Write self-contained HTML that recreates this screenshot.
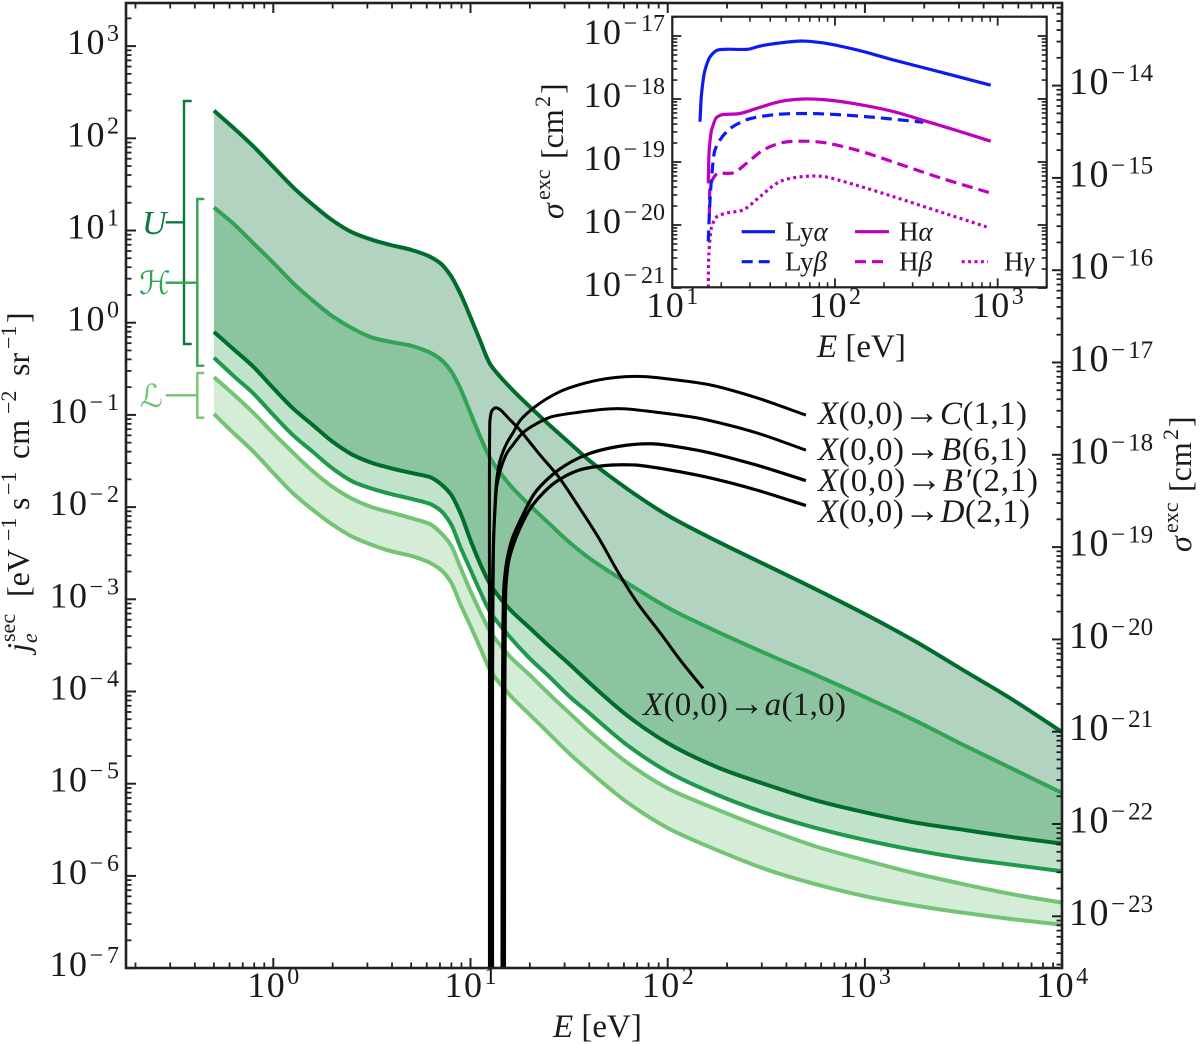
<!DOCTYPE html>
<html lang="en">
<head>
<meta charset="utf-8">
<title>Secondary electron spectrum and excitation cross sections</title>
<style>
html,body{margin:0;padding:0;background:#fff;width:1200px;height:1045px;overflow:hidden}
svg{display:block}
text{font-family:"Liberation Serif","DejaVu Serif",serif;fill:#1a1a1a}
.i{font-style:italic}
</style>
</head>
<body>
<svg id="chart" xmlns="http://www.w3.org/2000/svg" width="1200" height="1045" viewBox="0 0 1200 1045">
  <defs>
    <clipPath id="main-clip"><rect x="126" y="3" width="936" height="965"/></clipPath>
    <clipPath id="inset-clip"><rect x="672.3" y="16.7" width="374.4" height="270.6"/></clipPath>
  </defs>
  <g id="main-fills" clip-path="url(#main-clip)"></g>
  <g id="main-lines" clip-path="url(#main-clip)"></g>
  <g id="cross-lines" clip-path="url(#main-clip)"></g>
  <g id="main-ticks"></g>
  <rect x="126" y="3" width="936" height="965" fill="none" stroke="#222" stroke-width="2.6"/>

  <g fill="none" stroke-width="2.4">
    <path stroke="#0b7a3b" d="M191.7 101H184V344H191.7M165.7 222.3H184"/>
    <path stroke="#31a354" d="M204.3 199H197.3V365.7H204.3M165.7 282.7H197.3"/>
    <path stroke="#74c476" d="M204.3 373H197.3V417.7H204.3M165.7 395.3H197.3"/>
  </g>
  <text class="i" x="142" y="234" font-size="34" style="fill:#0b7a3b">U</text>
  <text x="139" y="294" font-size="32" style="fill:#31a354;font-family:'DejaVu Serif','DejaVu Sans',serif;font-style:italic">ℋ</text>
  <text x="140" y="407" font-size="32" style="fill:#74c476;font-family:'DejaVu Serif','DejaVu Sans',serif;font-style:italic">ℒ</text>

  <text x="818" y="424" font-size="33" textLength="209"><tspan class="i">X</tspan>(0,0)<tspan font-size="36">→</tspan><tspan class="i">C</tspan>(1,1)</text>
  <text x="818" y="460" font-size="33" textLength="209"><tspan class="i">X</tspan>(0,0)<tspan font-size="36">→</tspan><tspan class="i">B</tspan>(6,1)</text>
  <text x="818" y="491" font-size="33" textLength="220"><tspan class="i">X</tspan>(0,0)<tspan font-size="36">→</tspan><tspan class="i">B′</tspan>(2,1)</text>
  <text x="818" y="522" font-size="33" textLength="212"><tspan class="i">X</tspan>(0,0)<tspan font-size="36">→</tspan><tspan class="i">D</tspan>(2,1)</text>
  <text x="643" y="715" font-size="33" textLength="203"><tspan class="i">X</tspan>(0,0)<tspan font-size="36">→</tspan><tspan class="i">a</tspan>(1,0)</text>

  <text x="553" y="1037" font-size="33"><tspan class="i">E</tspan> [eV]</text>

  <g transform="translate(29 652) rotate(-90)" font-size="32">
    <text class="i" x="0" y="0">j</text>
    <text class="i" x="9" y="8" font-size="22">e</text>
    <text x="10" y="-14" font-size="22">sec</text>
    <text x="55" y="0">[eV</text>
    <text x="111" y="-13" font-size="22">−1</text>
    <text x="142" y="0">s</text>
    <text x="157" y="-13" font-size="22">−1</text>
    <text x="193" y="0">cm</text>
    <text x="238" y="-13" font-size="22">−2</text>
    <text x="276" y="0">sr</text>
    <text x="303" y="-13" font-size="22">−1</text>
    <text x="329" y="0">]</text>
  </g>

  <g transform="translate(1191 552) rotate(-90)" font-size="32">
    <text class="i" x="0" y="0">σ</text>
    <text x="19" y="-13" font-size="22">exc</text>
    <text x="60" y="0">[cm</text>
    <text x="112" y="-13" font-size="22">2</text>
    <text x="125" y="0">]</text>
  </g>

  <rect x="672.3" y="16.7" width="374.4" height="270.6" fill="#fff"/>
  <g id="inset-lines" clip-path="url(#inset-clip)"></g>
  <g id="inset-ticks"></g>
  <rect x="672.3" y="16.7" width="374.4" height="270.6" fill="none" stroke="#222" stroke-width="2.2"/>

  <text x="817" y="357" font-size="33"><tspan class="i">E</tspan> [eV]</text>
  <g transform="translate(563 219) rotate(-90)" font-size="32">
    <text class="i" x="0" y="0">σ</text>
    <text x="19" y="-13" font-size="22">exc</text>
    <text x="60" y="0">[cm</text>
    <text x="112" y="-13" font-size="22">2</text>
    <text x="125" y="0">]</text>
  </g>

  <g font-size="27">
    <line x1="741.7" y1="231.7" x2="775" y2="231.7" stroke="#0c1cf0" stroke-width="3.2"/>
    <text x="785" y="240.7">Ly<tspan class="i">α</tspan></text>
    <line x1="855" y1="231.7" x2="889" y2="231.7" stroke="#bf00bf" stroke-width="3.2"/>
    <text x="899" y="240.7">H<tspan class="i">α</tspan></text>
    <line x1="741.7" y1="261.7" x2="775" y2="261.7" stroke="#0c1cf0" stroke-width="3.2" stroke-dasharray="11 6"/>
    <text x="785" y="270.7">Ly<tspan class="i">β</tspan></text>
    <line x1="855" y1="261.7" x2="889" y2="261.7" stroke="#bf00bf" stroke-width="3.2" stroke-dasharray="11 6"/>
    <text x="899" y="270.7">H<tspan class="i">β</tspan></text>
    <line x1="961.7" y1="261.7" x2="988" y2="261.7" stroke="#bf00bf" stroke-width="3.2" stroke-dasharray="3 3.4"/>
    <text x="1004" y="270.7">H<tspan class="i">γ</tspan></text>
  </g>
</svg>
<script>
// All values are log10 of the physical quantity (E in eV, flux j, cross section sigma in cm^2).
const fluxLogE = [-0.301,-0.2,-0.1,0,0.1,0.2,0.3,0.4,0.5,0.6,0.7,0.8,0.85,0.9,0.95,1,1.05,1.1,1.2,1.3,1.4,1.5,1.6,1.8,2,2.25,2.5,2.75,3,3.25,3.5,3.75,4];
const uUpperLogJ = [2.30,2.11,1.91,1.69,1.47,1.28,1.11,0.98,0.90,0.84,0.79,0.71,0.64,0.51,0.31,0.06,-0.20,-0.45,-0.70,-0.91,-1.11,-1.30,-1.49,-1.81,-2.09,-2.37,-2.63,-2.89,-3.16,-3.45,-3.77,-4.09,-4.44];
const hUpperLogJ = [1.25,1.07,0.86,0.65,0.43,0.24,0.07,-0.06,-0.16,-0.21,-0.25,-0.33,-0.40,-0.52,-0.72,-0.98,-1.24,-1.47,-1.76,-1.98,-2.18,-2.38,-2.55,-2.83,-3.09,-3.35,-3.59,-3.82,-4.06,-4.31,-4.58,-4.84,-5.10];
const uLowerLogJ = [-0.10,-0.29,-0.48,-0.71,-0.93,-1.11,-1.29,-1.43,-1.52,-1.58,-1.63,-1.68,-1.75,-1.86,-2.07,-2.36,-2.62,-2.84,-3.11,-3.31,-3.51,-3.70,-3.90,-4.27,-4.56,-4.82,-5.01,-5.18,-5.31,-5.42,-5.50,-5.58,-5.65];
const hLowerLogJ = [-0.38,-0.58,-0.77,-1.00,-1.22,-1.40,-1.58,-1.72,-1.80,-1.86,-1.91,-1.97,-2.04,-2.18,-2.44,-2.68,-2.92,-3.14,-3.41,-3.64,-3.84,-4.05,-4.23,-4.59,-4.87,-5.12,-5.32,-5.48,-5.61,-5.72,-5.81,-5.88,-5.95];
const lUpperLogJ = [-0.59,-0.78,-0.98,-1.20,-1.41,-1.61,-1.78,-1.91,-2.00,-2.06,-2.12,-2.19,-2.28,-2.41,-2.66,-2.91,-3.14,-3.35,-3.62,-3.82,-4.03,-4.23,-4.43,-4.78,-5.05,-5.28,-5.49,-5.68,-5.83,-5.97,-6.09,-6.20,-6.29];
const lLowerLogJ = [-0.99,-1.20,-1.40,-1.63,-1.85,-2.03,-2.19,-2.32,-2.41,-2.48,-2.53,-2.61,-2.68,-2.81,-3.06,-3.29,-3.53,-3.77,-4.04,-4.25,-4.46,-4.67,-4.86,-5.21,-5.48,-5.72,-5.93,-6.09,-6.22,-6.32,-6.40,-6.47,-6.53];

const aLogE = [1.096,1.096,1.096,1.097,1.099,1.109,1.129,1.150,1.200,1.246,1.352,1.447,1.545,1.647,1.748,1.848,1.966,2.062,2.179];
const aLogSigma = [-24,-20,-18.2,-17.78,-17.62,-17.52,-17.49,-17.51,-17.62,-17.72,-18.00,-18.24,-18.55,-18.89,-19.27,-19.61,-19.94,-20.22,-20.53];
const cLogE = [1.112,1.112,1.114,1.119,1.134,1.150,1.185,1.216,1.251,1.327,1.449,1.647,1.850,2.047,2.209,2.448,2.701];
const cLogSigma = [-24,-20.66,-19.57,-18.81,-18.25,-18.06,-17.87,-17.76,-17.63,-17.48,-17.32,-17.19,-17.15,-17.19,-17.24,-17.38,-17.57];
const bLogE = [1.107,1.108,1.110,1.119,1.134,1.155,1.185,1.216,1.266,1.337,1.408,1.545,1.748,1.948,2.149,2.448,2.701];
const bLogSigma = [-24,-20.66,-19.57,-18.81,-18.33,-18.14,-17.98,-17.89,-17.76,-17.66,-17.59,-17.54,-17.50,-17.54,-17.60,-17.76,-17.95];
const bPrimeLogE = [1.160,1.161,1.165,1.170,1.185,1.210,1.266,1.327,1.449,1.586,1.748,1.910,2.149,2.448,2.701];
const bPrimeLogSigma = [-24,-21.20,-19.79,-19.41,-19.14,-18.92,-18.65,-18.41,-18.16,-18.00,-17.91,-17.88,-17.95,-18.11,-18.28];
const dLogE = [1.172,1.173,1.176,1.180,1.195,1.223,1.307,1.429,1.545,1.667,1.829,2.149,2.448,2.701];
const dLogSigma = [-24,-21.20,-19.79,-19.41,-19.14,-18.94,-18.57,-18.30,-18.17,-18.12,-18.11,-18.22,-18.38,-18.55];

const lyAlphaLogE = [1.170,1.180,1.201,1.232,1.273,1.334,1.467,1.539,1.662,1.805,1.928,2.133,2.359,2.645,2.957];
const lyAlphaLogSigma = [-18.36,-17.91,-17.54,-17.33,-17.23,-17.21,-17.21,-17.16,-17.11,-17.08,-17.11,-17.22,-17.38,-17.57,-17.78];
const hAlphaLogE = [1.221,1.227,1.242,1.273,1.303,1.416,1.518,1.662,1.805,1.928,2.133,2.359,2.543,2.748,2.957];
const hAlphaLogSigma = [-19.34,-18.81,-18.49,-18.29,-18.25,-18.23,-18.15,-18.04,-18.00,-18.01,-18.08,-18.20,-18.34,-18.50,-18.67];
const lyBetaLogE = [1.221,1.232,1.242,1.262,1.293,1.355,1.457,1.621,1.826,2.031,2.236,2.543];
const lyBetaLogSigma = [-20.26,-19.60,-19.23,-18.81,-18.65,-18.47,-18.33,-18.25,-18.23,-18.25,-18.29,-18.37];
const hBetaLogE = [1.227,1.236,1.273,1.375,1.457,1.559,1.682,1.805,1.928,2.133,2.359,2.645,2.953];
const hBetaLogSigma = [-19.87,-19.34,-19.19,-19.17,-19.02,-18.81,-18.69,-18.67,-18.69,-18.81,-19.00,-19.25,-19.49];
const hGammaLogE = [1.221,1.225,1.242,1.273,1.334,1.436,1.539,1.662,1.805,1.928,2.133,2.359,2.645,2.932];
const hGammaLogSigma = [-20.99,-20.45,-20.03,-19.87,-19.81,-19.76,-19.55,-19.31,-19.23,-19.23,-19.37,-19.55,-19.79,-20.03];

const mainXTickExps = [0,1,2,3,4];
const mainYTickExps = [-7,-6,-5,-4,-3,-2,-1,0,1,2,3];
const rightYTickExps = [-23,-22,-21,-20,-19,-18,-17,-16,-15,-14];
const insetXTickExps = [1,2,3];
const insetYTickExps = [-21,-20,-19,-18,-17];
const minorMultipliers = [2,3,4,5,6,7,8,9];

// Axis functions
function xMain(logE){ return 273.3 + 197.2 * logE; }
function yMain(logJ){ return 322.7 - 92.2 * logJ; }
function ySigma(logS){ return 916.3 - 92.3 * (logS + 23); }
function xInset(logE){ return 672.3 + 162.7 * (logE - 1); }
function yInset(logS){ return 36 - 63 * (logS + 17); }

const NS = 'http://www.w3.org/2000/svg';
function make(tag, parent, attrs){
  const el = document.createElementNS(NS, tag);
  for (const k in attrs) el.setAttribute(k, attrs[k]);
  parent.appendChild(el);
  return el;
}
function tangentAt(p, i){
  const a = p[Math.max(i-1,0)], b = p[i], c = p[Math.min(i+1,p.length-1)];
  const l1 = Math.hypot(b[0]-a[0], b[1]-a[1]);
  const l2 = Math.hypot(c[0]-b[0], c[1]-b[1]);
  let tx, ty;
  if (l1 === 0){ tx = (c[0]-b[0])/l2; ty = (c[1]-b[1])/l2; }
  else if (l2 === 0){ tx = (b[0]-a[0])/l1; ty = (b[1]-a[1])/l1; }
  else {
    tx = ((b[0]-a[0])/l1*l2 + (c[0]-b[0])/l2*l1)/(l1+l2);
    ty = ((b[1]-a[1])/l1*l2 + (c[1]-b[1])/l2*l1)/(l1+l2);
  }
  const n = Math.hypot(tx,ty) || 1;
  return [tx/n, ty/n];
}
function segLen(p, i){
  if (i < 0 || i >= p.length - 1) return Infinity;
  return Math.hypot(p[i+1][0]-p[i][0], p[i+1][1]-p[i][1]);
}
function smoothSegments(p){
  let d = '';
  for (let i = 0; i < p.length - 1; i++){
    const p1 = p[i], p2 = p[i+1];
    const len = segLen(p, i);
    const h1 = Math.min(len, segLen(p, i-1)) / 3;
    const h2 = Math.min(len, segLen(p, i+1)) / 3;
    const t1 = tangentAt(p, i), t2 = tangentAt(p, i+1);
    d += 'C' + (p1[0]+t1[0]*h1).toFixed(2) + ' ' + (p1[1]+t1[1]*h1).toFixed(2) + ' ' +
         (p2[0]-t2[0]*h2).toFixed(2) + ' ' + (p2[1]-t2[1]*h2).toFixed(2) + ' ' +
         p2[0].toFixed(2) + ' ' + p2[1].toFixed(2);
  }
  return d;
}
function linePath(p){ return 'M' + p[0][0].toFixed(2) + ' ' + p[0][1].toFixed(2) + smoothSegments(p); }
function bandPath(a, b){
  const r = b.slice().reverse();
  return linePath(a) + 'L' + r[0][0].toFixed(2) + ' ' + r[0][1].toFixed(2) + smoothSegments(r) + 'Z';
}
function zipPoints(xs, ys, fx, fy){ return xs.map(function(v,i){ return [fx(v), fy(ys[i])]; }); }
function fluxPoints(ys){ return zipPoints(fluxLogE, ys, xMain, yMain); }

const fillsG = document.getElementById('main-fills');
const linesG = document.getElementById('main-lines');
const crossG = document.getElementById('cross-lines');
const mainTicksG = document.getElementById('main-ticks');
const insetLinesG = document.getElementById('inset-lines');
const insetTicksG = document.getElementById('inset-ticks');

let el;
el = make('path', fillsG, {d: bandPath(fluxPoints(uUpperLogJ), fluxPoints(uLowerLogJ)), fill: '#006d2c', 'fill-opacity': 0.3});


el = make('path', fillsG, {d: bandPath(fluxPoints(hUpperLogJ), fluxPoints(hLowerLogJ)), fill: '#31a354', 'fill-opacity': 0.3});


el = make('path', fillsG, {d: bandPath(fluxPoints(lUpperLogJ), fluxPoints(lLowerLogJ)), fill: '#74c476', 'fill-opacity': 0.3});



function fluxLine(ys, color){
  return make('path', linesG, {d: linePath(fluxPoints(ys)), fill: 'none', stroke: color, 'stroke-width': 4});
}
el = fluxLine(lLowerLogJ, '#74c476');


el = fluxLine(lUpperLogJ, '#74c476');


el = fluxLine(hLowerLogJ, '#1f9a4c');


el = fluxLine(hUpperLogJ, '#31a354');


el = fluxLine(uLowerLogJ, '#006d2c');


el = fluxLine(uUpperLogJ, '#006d2c');



function crossLine(xs, ys, w){
  return make('path', crossG, {d: linePath(zipPoints(xs, ys, xMain, ySigma)), fill: 'none', stroke: '#000', 'stroke-width': w});
}
el = crossLine(aLogE, aLogSigma, 3);


el = crossLine(cLogE, cLogSigma, 3);


el = crossLine(bLogE, bLogSigma, 3);


el = crossLine(bPrimeLogE, bPrimeLogSigma, 3.2);


el = crossLine(dLogE, dLogSigma, 3.2);



function insetLine(xs, ys, color, dash){
  const attrs = {d: linePath(zipPoints(xs, ys, xInset, yInset)), fill: 'none', stroke: color, 'stroke-width': 3.2};
  if (dash) attrs['stroke-dasharray'] = dash;
  return make('path', insetLinesG, attrs);
}
el = insetLine(hGammaLogE, hGammaLogSigma, '#bf00bf', '3 3.4');


el = insetLine(hBetaLogE, hBetaLogSigma, '#bf00bf', '11 6');


el = insetLine(lyBetaLogE, lyBetaLogSigma, '#0c1cf0', '11 6');


el = insetLine(hAlphaLogE, hAlphaLogSigma, '#bf00bf');


el = insetLine(lyAlphaLogE, lyAlphaLogSigma, '#0c1cf0');



function tick(parent, x1, y1, x2, y2, w){
  return make('line', parent, {x1: x1, y1: y1, x2: x2, y2: y2, stroke: '#222', 'stroke-width': w});
}
function tickLabel(parent, x, y, exp, anchor, size, supSize, rise, minusGap){
  const t = make('text', parent, {x: x, y: y, 'text-anchor': anchor, 'font-size': size});
  const base = make('tspan', t, {'letter-spacing': 1.5});
  base.textContent = '10';
  if (exp < 0){
    const minus = make('tspan', t, {dx: 1, dy: -rise, 'font-size': supSize, 'letter-spacing': minusGap});
    minus.textContent = '\u2212';
    const digits = make('tspan', t, {'font-size': supSize});
    digits.textContent = String(-exp);
  } else {
    const digits = make('tspan', t, {dx: 1, dy: -rise, 'font-size': supSize});
    digits.textContent = String(exp);
  }
  return t;
}

// Main x ticks (bottom and top)
const mainXLeft = 126, mainXRight = 1062, mainTop = 3, mainBottom = 968;
for (let d = -1; d <= 4; d++){
  const px = xMain(d);
  if (px >= mainXLeft && px <= mainXRight + 0.5){
    el = tick(mainTicksG, px, mainBottom, px, mainBottom - 10, 2);
    
    
    el = tick(mainTicksG, px, mainTop, px, mainTop + 10, 2);
    
    
  }
  minorMultipliers.forEach(function(m){
    const mx = xMain(d + Math.log10(m));
    if (mx > mainXLeft && mx < mainXRight){
      el = tick(mainTicksG, mx, mainBottom, mx, mainBottom - 5.5, 1.8);
      
      
      el = tick(mainTicksG, mx, mainTop, mx, mainTop + 5.5, 1.8);
      
      
    }
  });
}
mainXTickExps.forEach(function(e){
  el = tickLabel(mainTicksG, xMain(e), 997, e, 'middle', 36, 24, 13, 4);
  
  
});

// Left y ticks
for (let d = -7; d <= 3; d++){
  el = tick(mainTicksG, mainXLeft, yMain(d), mainXLeft + 10, yMain(d), 2);
  
  
  minorMultipliers.forEach(function(m){
    const my = yMain(d + Math.log10(m));
    if (my > mainTop && my < mainBottom){
      el = tick(mainTicksG, mainXLeft, my, mainXLeft + 5.5, my, 1.8);
      
      
    }
  });
}
mainYTickExps.forEach(function(e){
  el = tickLabel(mainTicksG, 119, yMain(e) + 8, e, 'end', 36, 24, 13, 4);
  
  
});

// Right y ticks
for (let d = -24; d <= -14; d++){
  if (ySigma(d) > mainTop && ySigma(d) < mainBottom){
    el = tick(mainTicksG, mainXRight, ySigma(d), mainXRight - 10, ySigma(d), 2);
    
    
  }
  minorMultipliers.forEach(function(m){
    const my = ySigma(d + Math.log10(m));
    if (my > mainTop && my < mainBottom){
      el = tick(mainTicksG, mainXRight, my, mainXRight - 5.5, my, 1.8);
      
      
    }
  });
}
rightYTickExps.forEach(function(e){
  el = tickLabel(mainTicksG, 1069, ySigma(e) + 8.5, e, 'start', 38, 25, 13, 3);
  
  
});

// Inset ticks
const insetLeft = 672.3, insetRight = 1046.7, insetTop = 16.7, insetBottom = 287.3;
for (let d = 1; d <= 3; d++){
  const px = xInset(d);
  el = tick(insetTicksG, px, insetBottom, px, insetBottom - 9, 1.8);
  
  
  el = tick(insetTicksG, px, insetTop, px, insetTop + 9, 1.8);
  
  
  minorMultipliers.forEach(function(m){
    const mx = xInset(d + Math.log10(m));
    if (mx > insetLeft && mx < insetRight){
      el = tick(insetTicksG, mx, insetBottom, mx, insetBottom - 5, 1.6);
      
      
      el = tick(insetTicksG, mx, insetTop, mx, insetTop + 5, 1.6);
      
      
    }
  });
}
for (let d = -21; d <= -17; d++){
  const py = yInset(d);
  el = tick(insetTicksG, insetLeft, py, insetLeft + 9, py, 1.8);
  
  
  el = tick(insetTicksG, insetRight, py, insetRight - 9, py, 1.8);
  
  
  minorMultipliers.forEach(function(m){
    const my = yInset(d + Math.log10(m));
    if (my > insetTop && my < insetBottom){
      el = tick(insetTicksG, insetLeft, my, insetLeft + 5, my, 1.6);
      
      
      el = tick(insetTicksG, insetRight, my, insetRight - 5, my, 1.6);
      
      
    }
  });
}
insetXTickExps.forEach(function(e){
  el = tickLabel(insetTicksG, xInset(e), 317, e, 'middle', 36, 24, 13, 4);
  
  
});
insetYTickExps.forEach(function(e){
  el = tickLabel(insetTicksG, 665, yInset(e) + 8, e, 'end', 36, 24, 13, 4);
  
  
});
</script>
</body>
</html>
